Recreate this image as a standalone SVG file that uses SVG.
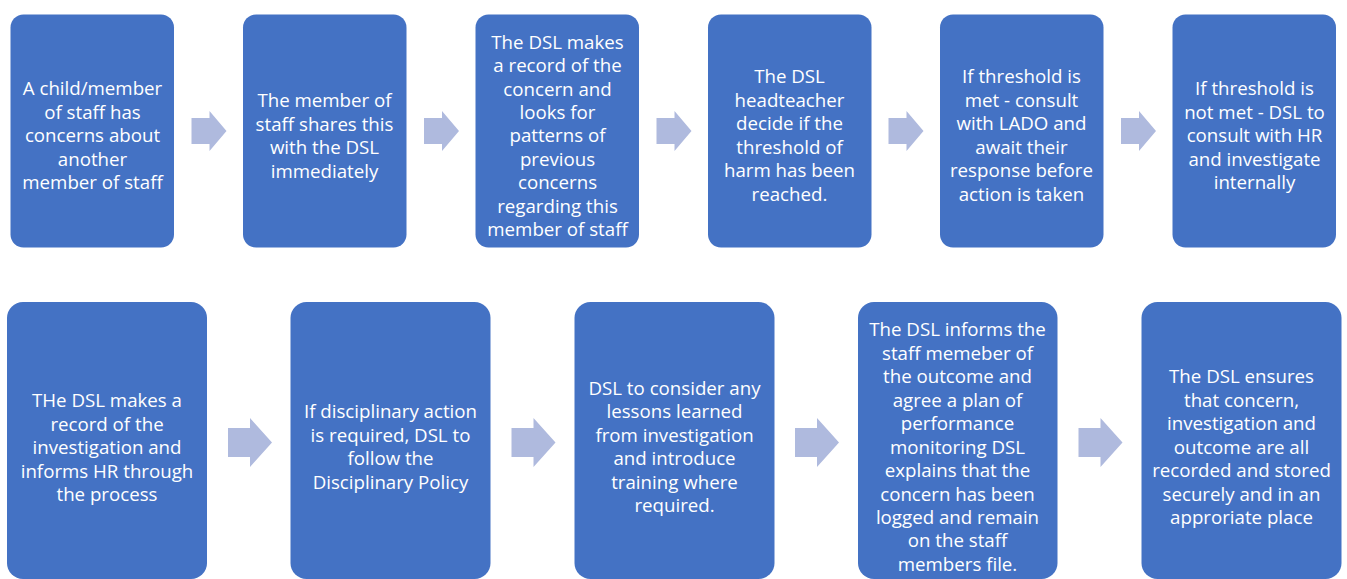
<svg xmlns="http://www.w3.org/2000/svg" width="1347" height="579" viewBox="0 0 1347 579">
<style>
.box{fill:#4472C4;}
.arr{fill:#AFBADE;}
text{font-family:"Open Sans","Liberation Sans",sans-serif;font-size:18.7px;fill:#FFFFFF;text-anchor:middle;}
</style>
<defs>
<path id="a1" class="arr" d="M0,118 h18 v-7 l17,20 l-17,20 v-7 h-18 z"/>
<path id="a2" class="arr" d="M0,428 h22 v-10 l22,24.5 l-22,24.5 v-10 h-22 z"/>
</defs>
<g id="connectors">
<use href="#a1" x="191.5"/>
<use href="#a1" x="424"/>
<use href="#a1" x="656.5"/>
<use href="#a1" x="888.5"/>
<use href="#a1" x="1121"/>
<use href="#a2" x="228"/>
<use href="#a2" x="511.5"/>
<use href="#a2" x="795"/>
<use href="#a2" x="1078.5"/>
</g>
<g id="n1"><rect class="box" x="10.5" y="14.5" width="163.5" height="233" rx="13"/>
<text x="92.5"><tspan x="92.5" y="95">A child/member</tspan><tspan x="92.5" y="118.5">of staff has</tspan><tspan x="92.5" y="142">concerns about</tspan><tspan x="92.5" y="165.5">another</tspan><tspan x="92.5" y="189">member of staff</tspan></text></g>
<g id="n2"><rect class="box" x="243" y="14.5" width="163.5" height="233" rx="13"/>
<text><tspan x="324.5" y="107">The member of</tspan><tspan x="324.5" y="130.5">staff shares this</tspan><tspan x="324.5" y="154">with the DSL</tspan><tspan x="324.5" y="177.5">immediately</tspan></text></g>
<g id="n3"><rect class="box" x="475.5" y="14.5" width="163.5" height="233" rx="13"/>
<text><tspan x="557.5" y="48.5">The DSL makes</tspan><tspan x="557.5" y="72">a record of the</tspan><tspan x="557.5" y="95.5">concern and</tspan><tspan x="557.5" y="119">looks for</tspan><tspan x="557.5" y="142">patterns of</tspan><tspan x="557.5" y="165.5">previous</tspan><tspan x="557.5" y="189">concerns</tspan><tspan x="557.5" y="212.5">regarding this</tspan><tspan x="557.5" y="236">member of staff</tspan></text></g>
<g id="n4"><rect class="box" x="708" y="14.5" width="163.5" height="233" rx="13"/>
<text><tspan x="789.5" y="83">The DSL</tspan><tspan x="789.5" y="106.5">headteacher</tspan><tspan x="789.5" y="130">decide if the</tspan><tspan x="789.5" y="153.5">threshold of</tspan><tspan x="789.5" y="177">harm has been</tspan><tspan x="789.5" y="200.5">reached.</tspan></text></g>
<g id="n5"><rect class="box" x="940" y="14.5" width="163.5" height="233" rx="13"/>
<text><tspan x="1021.5" y="83">If threshold is</tspan><tspan x="1021.5" y="106.5">met - consult</tspan><tspan x="1021.5" y="130">with LADO and</tspan><tspan x="1021.5" y="153.5">await their</tspan><tspan x="1021.5" y="177">response before</tspan><tspan x="1021.5" y="200.5">action is taken</tspan></text></g>
<g id="n6"><rect class="box" x="1172.5" y="14.5" width="163.5" height="233" rx="13"/>
<text><tspan x="1254.5" y="95">If threshold is</tspan><tspan x="1254.5" y="118.5">not met - DSL to</tspan><tspan x="1254.5" y="142">consult with HR</tspan><tspan x="1254.5" y="165.5">and investigate</tspan><tspan x="1254.5" y="189">internally</tspan></text></g>
<g id="n7"><rect class="box" x="7" y="302" width="200" height="277" rx="16"/>
<text><tspan x="107" y="407">THe DSL makes a</tspan><tspan x="107" y="430.5">record of the</tspan><tspan x="107" y="454">investigation and</tspan><tspan x="107" y="477.5">informs HR through</tspan><tspan x="107" y="501">the process</tspan></text></g>
<g id="n8"><rect class="box" x="290.5" y="302" width="200" height="277" rx="16"/>
<text><tspan x="390.5" y="418">If disciplinary action</tspan><tspan x="390.5" y="441.5">is required, DSL to</tspan><tspan x="390.5" y="465">follow the</tspan><tspan x="390.5" y="488.5">Disciplinary Policy</tspan></text></g>
<g id="n9"><rect class="box" x="574.5" y="302" width="200" height="277" rx="16"/>
<text><tspan x="674.5" y="395">DSL to consider any</tspan><tspan x="674.5" y="418">lessons learned</tspan><tspan x="674.5" y="441.5">from investigation</tspan><tspan x="674.5" y="465">and introduce</tspan><tspan x="674.5" y="488.5">training where</tspan><tspan x="674.5" y="512">required.</tspan></text></g>
<g id="n10"><rect class="box" x="858" y="302" width="199.5" height="277" rx="16"/>
<text><tspan x="957.5" y="336">The DSL informs the</tspan><tspan x="957.5" y="359.5">staff memeber of</tspan><tspan x="957.5" y="383">the outcome and</tspan><tspan x="957.5" y="406.5">agree a plan of</tspan><tspan x="957.5" y="430">performance</tspan><tspan x="957.5" y="453.5">monitoring DSL</tspan><tspan x="957.5" y="477">explains that the</tspan><tspan x="957.5" y="500.5">concern has been</tspan><tspan x="957.5" y="524">logged and remain</tspan><tspan x="957.5" y="547">on the staff</tspan><tspan x="957.5" y="570.5">members file.</tspan></text></g>
<g id="n11"><rect class="box" x="1141.5" y="302" width="200" height="277" rx="16"/>
<text><tspan x="1241.5" y="383">The DSL ensures</tspan><tspan x="1241.5" y="406.5">that concern,</tspan><tspan x="1241.5" y="430">investigation and</tspan><tspan x="1241.5" y="453.5">outcome are all</tspan><tspan x="1241.5" y="477">recorded and stored</tspan><tspan x="1241.5" y="500.5">securely and in an</tspan><tspan x="1241.5" y="524">approriate place</tspan></text></g>
</svg>
